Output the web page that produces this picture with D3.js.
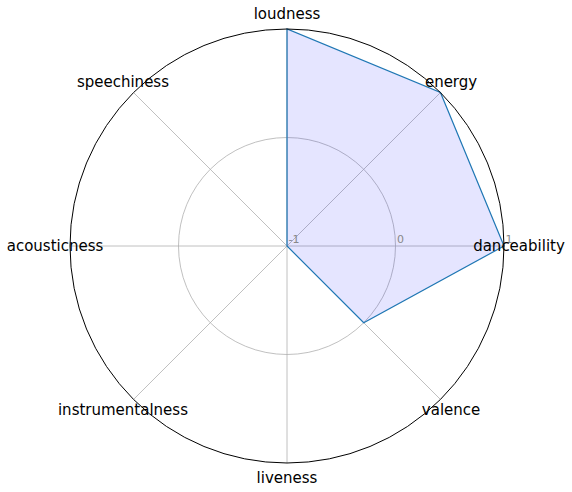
<!DOCTYPE html>
<html><head><meta charset="utf-8">
<script src="https://cdn.jsdelivr.net/npm/d3@7"></script>
<style>body{margin:0;background:#fff}</style>
</head><body>
<script>
const categories = ["danceability","energy","loudness","speechiness","acousticness","instrumentalness","liveness","valence"];
const values = [1, 1, 1, -1, -1, -1, -1, 0];
const radialTicks = [-1, 0, 1];

const W = 572, H = 492, cx = 287, cy = 246, R = 217;
const svg = d3.select("body").append("svg").attr("width", W).attr("height", H);
const r = d3.scaleLinear().domain([-1, 1]).range([0, R]);
const ang = d3.scalePoint().domain(categories).range([0, 2*Math.PI*(categories.length-1)/categories.length]);
const g = svg.append("g").attr("transform", `translate(${cx},${cy})`);
const px = (a, rad) => rad*Math.cos(a);
const py = (a, rad) => -rad*Math.sin(a);

// grid circles
g.selectAll("circle.grid").data(radialTicks.filter(t => t > -1 && t < 1)).enter().append("circle")
  .attr("r", d => r(d)).attr("fill", "none").attr("stroke", "#b0b0b0").attr("stroke-width", 0.8);
// spokes
g.selectAll("line.spoke").data(categories).enter().append("line")
  .attr("x1", 0).attr("y1", 0)
  .attr("x2", d => px(ang(d), R)).attr("y2", d => py(ang(d), R))
  .attr("stroke", "#b0b0b0").attr("stroke-width", 0.8);

// polygon
const pts = categories.map((c, i) => [px(ang(c), r(values[i])), py(ang(c), r(values[i]))]);
g.append("path").attr("d", d3.line().curve(d3.curveLinearClosed)(pts))
  .attr("fill", "rgba(0,0,255,0.1)").attr("stroke", "#1f77b4").attr("stroke-width", 1.2);

// outer spine
g.append("circle").attr("r", R).attr("fill", "none").attr("stroke", "#000").attr("stroke-width", 1);

// radial tick labels
g.selectAll("text.rt").data(radialTicks).enter().append("text")
  .attr("x", d => r(d) + 1.5).attr("y", -3)
  .attr("font-family", "DejaVu Sans").attr("font-size", 11).attr("fill", "#888888")
  .text(d => d);

// category labels
g.selectAll("text.cat").data(categories).enter().append("text")
  .attr("x", d => px(ang(d), 232)).attr("y", d => py(ang(d), 232))
  .attr("text-anchor", "middle").attr("dominant-baseline", "central")
  .attr("font-family", "DejaVu Sans").attr("font-size", 15).attr("fill", "#000")
  .text(d => d);
</script>
</body></html>
